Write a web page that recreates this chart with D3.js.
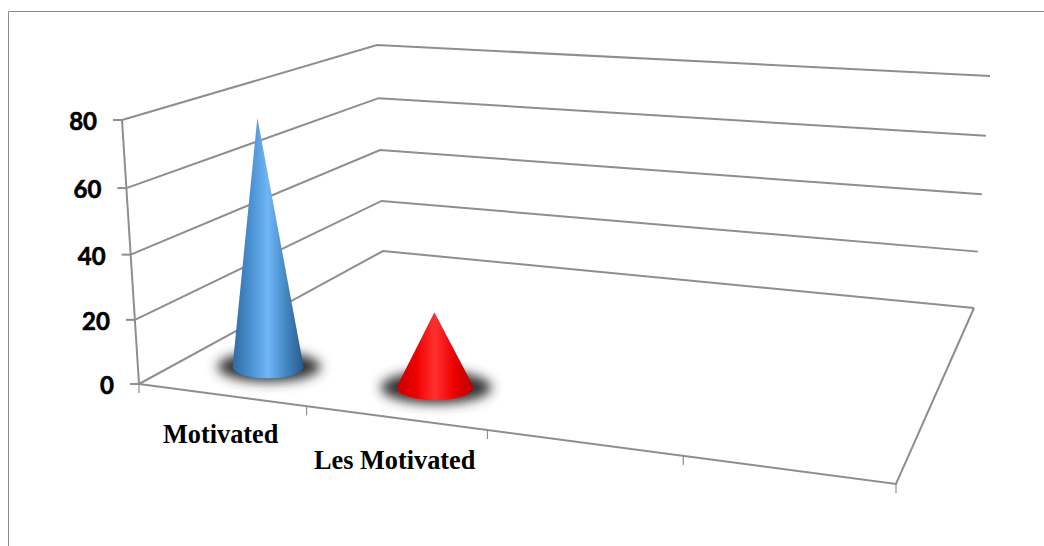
<!DOCTYPE html>
<html><head><meta charset="utf-8">
<script src="https://cdn.jsdelivr.net/npm/d3@7"></script>
<style>html,body{margin:0;padding:0;background:#fff}svg{display:block}</style>
</head><body><div id="c"></div>
<script>
const categories = ["Motivated", "Les Motivated"];
const values = [78, 24];
const yTicks = [0, 20, 40, 60, 80];
const slots = [0, 1, 2, 3, 4];
const colours = [
  ["#2f6aa0","#4a90d0","#6fb6f8","#4488c4","#28598a"],
  ["#c80000","#f00000","#ff3030","#ee0000","#b80000"]
];
const W = 1044, H = 546, G = "#8e8e8e";

// Chart box corners on screen: floor (z=0) and top (z=1)
const floor = [[139,384],[896,484],[974,308],[383,251]];
const top_  = [[122,120],[915,215],[990,76],[377,45]];

function quad(q){
  const [[x0,y0],[x1,y1],[x2,y2],[x3,y3]] = q;
  const dx1=x1-x2, dx2=x3-x2, sx=x0-x1+x2-x3, dy1=y1-y2, dy2=y3-y2, sy=y0-y1+y2-y3;
  const d=dx1*dy2-dx2*dy1, g=(sx*dy2-dx2*sy)/d, h=(dx1*sy-sx*dy1)/d;
  const a=x1-x0+g*x1, b=x3-x0+h*x3, e=y1-y0+g*y1, f=y3-y0+h*y3;
  return (u,v)=>{const w=g*u+h*v+1; return [(a*u+b*v+x0)/w,(e*u+f*v+y0)/w];};
}
const pFloor = quad(floor);
const rise = floor.map((p,i)=>[top_[i][0]-p[0], top_[i][1]-p[1]]);
const zScale = d3.scaleLinear().domain(yTicks).range([0,0.243,0.49,0.742,1]);
const uScale = d3.scaleLinear().domain([0,4]).range([0,1]);
function project(u,v,val){
  const a=pFloor(u,v), t=zScale(val);
  const r=k=>(1-v)*((1-u)*rise[0][k]+u*rise[1][k])+v*((1-u)*rise[3][k]+u*rise[2][k]);
  return [a[0]+r(0)*t, a[1]+r(1)*t];
}
const svg = d3.select("#c").append("svg").attr("width",W).attr("height",H);
const defs = svg.append("defs");
defs.append("filter").attr("id","blur").attr("x","-40%").attr("y","-80%").attr("width","180%").attr("height","260%")
  .append("feGaussianBlur").attr("stdDeviation",6);

// outer frame
svg.append("path").attr("d",`M${W},11.5H8.5V${H}`).attr("fill","none").attr("stroke","#8a8a8a").attr("stroke-width",1);

const line = d3.line();
const grid = svg.append("g").attr("fill","none").attr("stroke",G).attr("stroke-width",2);
yTicks.forEach(t=>{
  grid.append("path").attr("d",line([project(0,0,t),project(0,1,t),project(1,1,t)]));
  const p=project(0,0,t);
  grid.append("path").attr("d",line([[p[0]-9,p[1]],p]));
});
grid.append("path").attr("d",line([project(0,0,0),project(0,0,80)]));
grid.append("path").attr("d",line([project(0,0,0),project(1,0,0),project(1,1,0)]));
slots.forEach(s=>{
  const p=project(uScale(s),0,0);
  grid.append("path").attr("stroke-width",1.2).attr("d",line([p,[p[0],p[1]+9]]));
});

// value labels
svg.append("g").selectAll("text").data(yTicks).join("text")
  .attr("x",d=>project(0,0,d)[0]-25).attr("y",d=>project(0,0,d)[1]+10)
  .attr("text-anchor","end").attr("font-family","Lato, sans-serif").attr("font-weight",700)
  .attr("font-size",24).attr("fill","#000").attr("stroke","#000").attr("stroke-width",0.6).text(d=>d);

// cones
const DEPTH = 0.165, RU = 0.055;
categories.forEach((c,i)=>{
  const u=uScale(i+0.5), ctr=project(u,DEPTH,0), apex=project(u,DEPTH,values[i]);
  const rx=(project(u+RU,DEPTH,0)[0]-project(u-RU,DEPTH,0)[0])/2, ry=rx*0.33;
  const id="cone"+i;
  const gr=defs.append("linearGradient").attr("id",id).attr("gradientUnits","userSpaceOnUse")
    .attr("x1",ctr[0]-rx).attr("x2",ctr[0]+rx).attr("y1",0).attr("y2",0);
  colours[i].forEach((col,k)=>gr.append("stop").attr("offset",k/4).attr("stop-color",col));
  svg.append("ellipse").attr("cx",ctr[0]+1).attr("cy",ctr[1]).attr("rx",rx*1.45).attr("ry",ry*1.3)
    .attr("fill","#333").attr("filter","url(#blur)");
  const pts=d3.range(72).map(a=>{const th=a/72*2*Math.PI;return [ctr[0]+rx*Math.cos(th),ctr[1]+ry*Math.sin(th)];});
  pts.push(apex);
  svg.append("path").attr("d",line(d3.polygonHull(pts))+"Z").attr("fill",`url(#${id})`);
});

// category labels
const labX=[163,314], labY=[443,469];
svg.append("g").selectAll("text").data(categories).join("text")
  .attr("x",(d,i)=>labX[i]).attr("y",(d,i)=>labY[i])
  .attr("font-family","'Liberation Serif', serif").attr("font-weight",700)
  .attr("font-size",26.3).attr("fill","#000").text(d=>d);
</script></body></html>
